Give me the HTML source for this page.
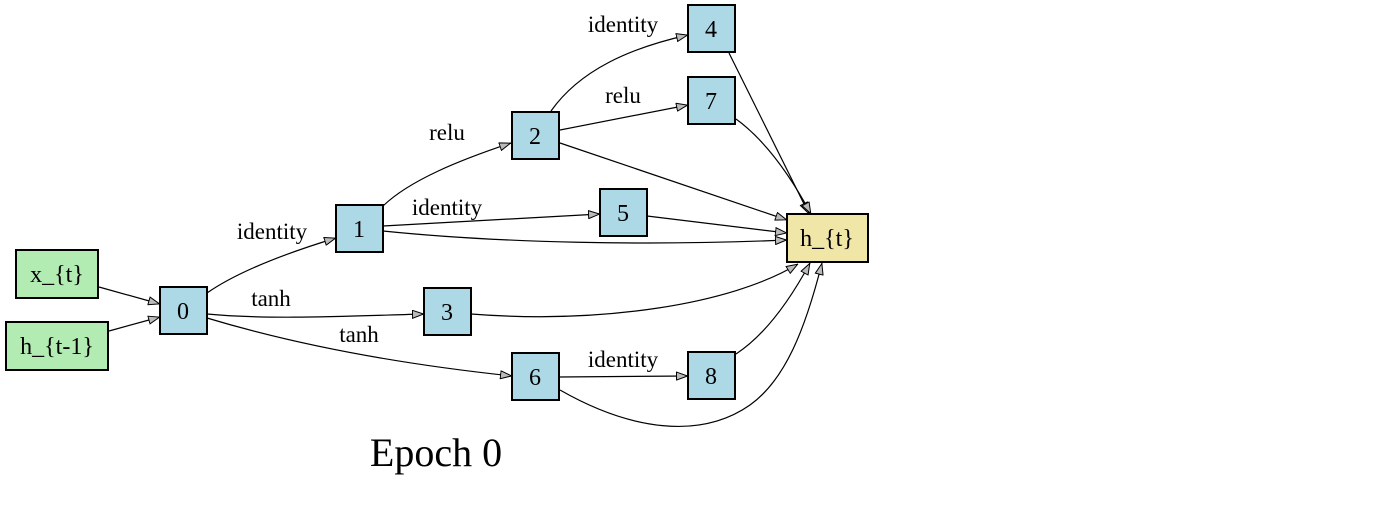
<!DOCTYPE html>
<html><head><meta charset="utf-8"><style>
html,body{margin:0;padding:0;background:#fff;}
svg{display:block;}
text{font-family:"Liberation Serif",serif;fill:#000;}
</style></head><body>
<svg width="1400" height="530" viewBox="0 0 1400 530" xmlns="http://www.w3.org/2000/svg">
<defs>
<marker id="a" viewBox="0 0 12 9" refX="12" refY="4.5" markerWidth="12" markerHeight="9" markerUnits="userSpaceOnUse" orient="auto">
<path d="M0.5,0.5 L11.5,4.5 L0.5,8.5 Z" fill="#bbb" stroke="#000" stroke-width="1"/>
</marker>
</defs>
<g fill="none" stroke="#000" stroke-width="1.2" marker-end="url(#a)">
<path d="M99,287 L160,304"/>
<path d="M109,331 L160,317"/>
<path d="M207,293 C240,270 290,252 336,238"/>
<path d="M207,314 C270,320 350,316 424,314"/>
<path d="M207,318 C280,340 380,362 512,376"/>
<path d="M383,206 C410,180 460,160 511,143"/>
<path d="M383,226 L600,214"/>
<path d="M383,231 C500,243 650,246 787,240"/>
<path d="M471,314 C600,324 730,305 798,264"/>
<path d="M551,111 C580,70 630,48 688,35"/>
<path d="M560,130 L688,105"/>
<path d="M560,143 L787,220"/>
<path d="M647,216 L787,233"/>
<path d="M729,53 L809,214"/>
<path d="M736,119 C765,140 790,175 811,214"/>
<path d="M559,377 L688,376"/>
<path d="M736,354 C765,335 790,300 810,263"/>
<path d="M560,390 C630,430 700,440 750,405 C785,380 805,330 822,263"/>
</g>
<g stroke="#000" stroke-width="2">
<rect x="16" y="250" width="82" height="48" fill="#b3ecb3"/>
<rect x="6" y="322" width="102" height="48" fill="#b3ecb3"/>
<rect x="160" y="287" width="47" height="47" fill="#add8e6"/>
<rect x="336" y="205" width="47" height="47" fill="#add8e6"/>
<rect x="424" y="288" width="47" height="47" fill="#add8e6"/>
<rect x="512" y="112" width="47" height="47" fill="#add8e6"/>
<rect x="688" y="5" width="47" height="47" fill="#add8e6"/>
<rect x="688" y="77" width="47" height="47" fill="#add8e6"/>
<rect x="600" y="189" width="47" height="47" fill="#add8e6"/>
<rect x="512" y="353" width="47" height="47" fill="#add8e6"/>
<rect x="688" y="352" width="47" height="47" fill="#add8e6"/>
<rect x="787" y="214" width="81" height="48" fill="#f0e6a8"/>
</g>
<g font-size="24" text-anchor="middle">
<text x="57" y="282">x_{t}</text>
<text x="57" y="354">h_{t-1}</text>
<text x="183" y="319">0</text>
<text x="359" y="237">1</text>
<text x="447" y="320">3</text>
<text x="535" y="144">2</text>
<text x="711" y="37">4</text>
<text x="711" y="109">7</text>
<text x="623" y="221">5</text>
<text x="535" y="385">6</text>
<text x="711" y="384">8</text>
<text x="827" y="246">h_{t}</text>
</g>
<g font-size="23" text-anchor="middle">
<text x="272" y="239">identity</text>
<text x="271" y="306">tanh</text>
<text x="359" y="342">tanh</text>
<text x="447" y="140">relu</text>
<text x="447" y="215">identity</text>
<text x="623" y="32">identity</text>
<text x="623" y="103">relu</text>
<text x="623" y="367">identity</text>
</g>
<text x="436" y="466" font-size="40" text-anchor="middle">Epoch 0</text>
</svg>
</body></html>
